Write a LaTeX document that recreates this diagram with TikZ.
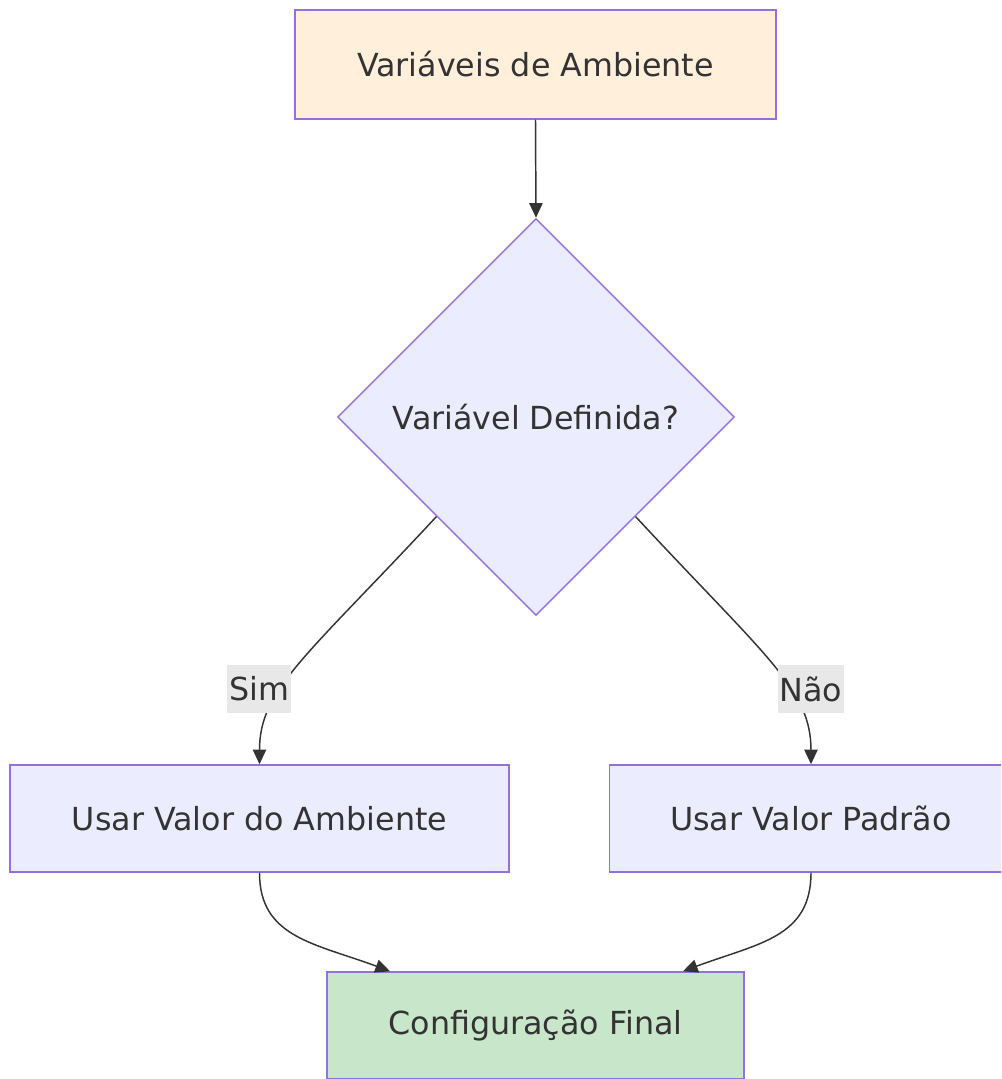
\documentclass[tikz,border=0pt]{standalone}
\usepackage{fontspec}
\setmainfont{DejaVu Sans}
\usetikzlibrary{shapes.geometric,arrows.meta}

\definecolor{boxline}{RGB}{147,112,219}
\definecolor{boxfill}{RGB}{236,236,255}
\definecolor{startfill}{RGB}{255,239,219}
\definecolor{endfill}{RGB}{200,230,201}
\definecolor{arrowline}{RGB}{51,51,51}
\definecolor{labelfill}{RGB}{232,232,232}

\tikzset{every picture/.style={line width=0.75pt}}
\tikzset{
	flowbox/.style={draw=boxline, line width=1.1pt, fill=boxfill, rectangle, inner sep=0pt, font=\fontsize{23.8}{28}\selectfont, text=arrowline, minimum height=80.25pt},
	decision/.style={draw=boxline, line width=1.1pt, fill=boxfill, diamond, aspect=1, inner sep=0pt, minimum width=297.75pt, minimum height=297.75pt, font=\fontsize{23.8}{28}\selectfont, text=arrowline},
	edgelabel/.style={fill=labelfill, inner xsep=1.5pt, inner ysep=0pt, minimum height=36pt, font=\fontsize{23.8}{28}\selectfont, text=arrowline},
	flow/.style={draw=arrowline, line width=1.1pt, -{Triangle[length=11pt,width=10pt]}}
}

\begin{document}
\begin{tikzpicture}[x=0.75pt,y=0.75pt,yscale=-1,xscale=1]
	\useasboundingbox (0,0) rectangle (1001,1079);
	\clip (0,0) rectangle (1001,1079);

	% Text Node
	\node [flowbox, fill=startfill, minimum width=360.75pt, minimum height=81.75pt] (env) at (535.5,64.5) {Variáveis de Ambiente};
	% Text Node
	\node [decision] (check) at (536,417) {Variável Definida?};
	% Text Node
	\node [flowbox, minimum width=374.25pt] (useenv) at (259.5,818.5) {Usar Valor do Ambiente};
	% Text Node
	\node [flowbox, minimum width=302.25pt] (usedef) at (811,818.5) {Usar Valor Padrão};
	% Text Node
	\node [flowbox, fill=endfill, minimum width=312.75pt] (final) at (535.5,1025.5) {Configuração Final};

	%Straight Lines
	\draw [flow] (env.south) -- (check.north) ;
	%Curve Lines
	\draw [flow] (check.south west) .. controls +(-130,140) and +(0,-75) .. (useenv.north) ;
	\draw [flow] (check.south east) .. controls +(130,140) and +(0,-75) .. (usedef.north) ;
	\draw [flow] (useenv.south) .. controls +(0,65) and +(-75,-28) .. ([xshift=-145.5*0.75pt]final.north) ;
	\draw [flow] (usedef.south) .. controls +(0,65) and +(75,-28) .. ([xshift=147.5*0.75pt]final.north) ;

	% Edge labels
	\node [edgelabel] (yes) at (259,689) {Sim};
	\node [edgelabel] (no) at (811,689) {Não};

\end{tikzpicture}
\end{document}
